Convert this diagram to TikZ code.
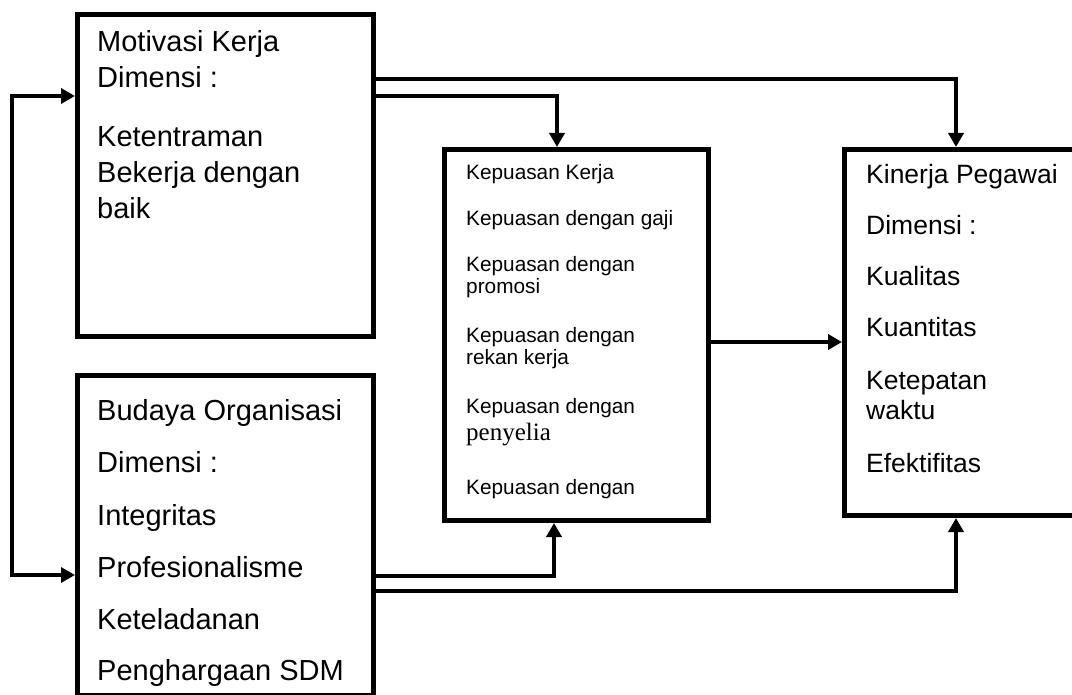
\documentclass[tikz,border=0pt]{standalone}
\usepackage{fontspec}
\setmainfont{Liberation Sans}
\newfontfamily\serifface{Liberation Serif}
\usetikzlibrary{arrows.meta}

\begin{document}
\begin{tikzpicture}[x=1pt,y=-1pt,
	>={Triangle[length=14pt,width=15pt]},
	box/.style={draw,line width=5pt,inner sep=0pt,anchor=north west},
	link/.style={line width=4.5pt,->},
	bigtxt/.style={anchor=base west,inner sep=0pt,font={\fontsize{29}{34}\selectfont}},
	midtxt/.style={anchor=base west,inner sep=0pt,font={\fontsize{26.5}{32}\selectfont}},
	smalltxt/.style={anchor=base west,inner sep=0pt,font={\fontsize{20.8}{25}\selectfont}}]
\useasboundingbox (0,0) rectangle (1072,695);
\clip (0,0) rectangle (1072,695);
% the four boxes
\node[box,minimum width=296pt,minimum height=322pt] (mot) at (75,12) {};
\node[box,minimum width=296pt,minimum height=320pt] (bud) at (75,373) {};
\node[box,minimum width=264pt,minimum height=371pt] (kep) at (442,147) {};
\node[box,minimum width=260pt,minimum height=366pt] (kin) at (842,147) {};
% texts
\foreach \yy/\txt [count=\i] in {52/Motivasi Kerja,88/Dimensi :,147/Ketentraman,183/Bekerja dengan,219/baik}
	\node[bigtxt] (mot-\i) at (97,\yy) {\txt};
\foreach \yy/\txt [count=\i] in {420/Budaya Organisasi,472/Dimensi :,525/Integritas,577/Profesionalisme,629/Keteladanan,680/Penghargaan SDM}
	\node[bigtxt] (bud-\i) at (97,\yy) {\txt};
\foreach \yy/\txt [count=\i] in {180/Kepuasan Kerja,226/Kepuasan dengan gaji,272/Kepuasan dengan,294/promosi,342/Kepuasan dengan,365/rekan kerja,413/Kepuasan dengan,494/Kepuasan dengan}
	\node[smalltxt] (kep-\i) at (466,\yy) {\txt};
\node[anchor=base west,inner sep=0pt,font={\serifface\fontsize{25}{30}\selectfont}] (kep-pen) at (466,440) {penyelia};
\foreach \yy/\txt [count=\i] in {184/Kinerja Pegawai,235/Dimensi :,286/Kualitas,337/Kuantitas,389/Ketepatan,419/waktu,472/Efektifitas}
	\node[midtxt] (kin-\i) at (866,\yy) {\txt};
% connectors
\coordinate (loopT) at (12,96);
\coordinate (loopB) at (12,575);
\draw[link,<->] (mot.west |- loopT) -- (loopT) -- (loopB) -- (bud.west |- loopB);
\coordinate (ad) at (956,79);
\coordinate (ac) at (557,96);
\coordinate (bc) at (554,576);
\coordinate (bd) at (956,591);
\coordinate (cd) at (706,342);
\draw[link] (mot.east |- ad) -| (kin.north -| ad);
\draw[link] (mot.east |- ac) -| (kep.north -| ac);
\draw[link] (bud.east |- bc) -| (kep.south -| bc);
\draw[link] (bud.east |- bd) -| (kin.south -| bd);
\draw[link] (kep.east |- cd) -- (kin.west |- cd);
\end{tikzpicture}
\end{document}
